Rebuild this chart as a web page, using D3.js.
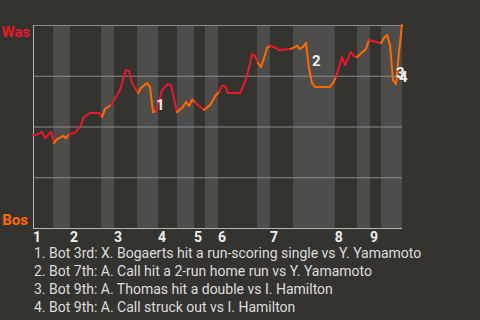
<!DOCTYPE html>
<html>
<head>
<meta charset="utf-8">
<script src="https://cdn.jsdelivr.net/npm/d3@7"></script>
<style>
  html, body { margin: 0; padding: 0; background: #353330; }
  svg { display: block; font-family: Roboto, "Noto Sans", sans-serif; }
</style>
</head>
<body>
<script>
// win probability for Was (percent), one value per play number
var plays = [0, 1, 3, 4, 6, 7, 8, 10, 11, 12, 14, 16, 17, 19, 22, 23, 24, 26, 29, 31,
             32, 33, 35, 36, 38, 39, 40, 41, 43, 45, 46, 48, 50, 51, 52, 53, 54, 55, 57, 59,
             61, 62, 63, 64, 65, 69, 71, 72, 73, 74, 75, 76, 77, 78, 79, 81, 82, 86, 88, 89,
             90, 91, 92, 93, 94, 99, 100, 101, 102, 103, 104, 106, 107, 108, 111, 112, 113, 116, 117, 118,
             119, 120, 121, 122, 123];
var wp =    [45.8, 45.8, 47.3, 44.3, 47.3, 41.9, 43.8, 45.3, 44.3, 46.3, 46.8, 50.7, 54.7, 56.7, 56.7, 54.7, 58.6, 60.6, 68.0, 77.8,
             77.3, 71.4, 66.5, 69.0, 71.4, 69.5, 57.1, 57.6, 68.0, 70.9, 70.4, 57.1, 59.6, 62.1, 60.1, 63.1, 62.1, 60.6, 58.1, 60.6,
             65.5, 67.0, 70.0, 70.0, 66.5, 66.5, 73.4, 78.8, 85.7, 84.7, 81.3, 79.3, 83.7, 88.7, 89.7, 88.7, 87.7, 88.2, 89.7, 88.2,
             89.2, 91.1, 78.8, 71.4, 69.5, 69.5, 71.4, 74.4, 79.3, 84.2, 80.3, 86.7, 84.7, 84.2, 88.2, 92.6, 92.1, 91.1, 93.6, 95.1,
             90.1, 72.9, 70.9, 86.7, 100];

// play number where each half inning starts (top 1st, bot 1st, top 2nd, ...)
var halfStarts = [0, 6.7, 12.3, 22.7, 27, 34.7, 41.7, 48, 53.67, 57.3, 61.67, 74.67, 79, 86.67, 100.6, 108, 112.3, 116];
var lastPlay = 123;
var innings = ["1", "2", "3", "4", "5", "6", "7", "8", "9"];

var teams = ["Was", "Bos"];
var eventPlays = [40, 92, 120, 121];
var eventText = [
  "1. Bot 3rd: X. Bogaerts hit a run-scoring single vs Y. Yamamoto",
  "2. Bot 7th: A. Call hit a 2-run home run vs Y. Yamamoto",
  "3. Bot 9th: A. Thomas hit a double vs I. Hamilton",
  "4. Bot 9th: A. Call struck out vs I. Hamilton"
];

var width = 480, height = 320;
var margin = {top: 25, right: 78, bottom: 92, left: 33};
var red = "#e8192c", orange = "#ff6a00";

var x = d3.scaleLinear().domain([0, lastPlay]).range([margin.left, width - margin.right]);
var y = d3.scaleLinear().domain([0, 100]).range([height - margin.bottom, margin.top]);

var svg = d3.select("body").append("svg")
    .attr("width", width)
    .attr("height", height);

svg.append("rect")
    .attr("width", width).attr("height", height)
    .attr("fill", "#353330");

// shaded bands for bottom halves
var halves = halfStarts.map(function(s, i) {
  return {start: s, end: i < halfStarts.length - 1 ? halfStarts[i + 1] : lastPlay, bottom: i % 2 == 1};
});

svg.append("g").selectAll("rect")
    .data(halves.filter(function(h) { return h.bottom; }))
  .enter().append("rect")
    .attr("x", function(h) { return x(h.start); })
    .attr("width", function(h) { return x(h.end) - x(h.start); })
    .attr("y", y(100))
    .attr("height", y(0) - y(100))
    .attr("fill", "#4f4d4b");

// gridlines
var grid = svg.append("g")
    .attr("transform", "translate(" + margin.left + ",0)")
    .call(d3.axisLeft(y).tickValues([25, 50, 75, 100]).tickSize(-(x(lastPlay) - x(0))).tickFormat(""));
grid.select(".domain").remove();
grid.selectAll(".tick line").attr("stroke", "#8d8b89").attr("stroke-width", 1);

// axis lines
svg.append("line")
    .attr("x1", x(0) + 0.5).attr("x2", x(0) + 0.5)
    .attr("y1", y(100)).attr("y2", y(0) + 1)
    .attr("stroke", "#b5b3b0");
svg.append("line")
    .attr("x1", x(0)).attr("x2", x(lastPlay))
    .attr("y1", y(0) + 0.5).attr("y2", y(0) + 0.5)
    .attr("stroke", "#b5b3b0");

// line, segment colour follows which half inning it is in
function halfOf(p) {
  var i = d3.bisectRight(halfStarts, p) - 1;
  return Math.max(0, i);
}
var pts = plays.map(function(p, i) { return {p: p, v: wp[i]}; });
var segs = d3.pairs(pts);

svg.append("g").selectAll("line")
    .data(segs)
  .enter().append("line")
    .attr("x1", function(d) { return x(d[0].p); })
    .attr("y1", function(d) { return y(d[0].v); })
    .attr("x2", function(d) { return x(d[1].p); })
    .attr("y2", function(d) { return y(d[1].v); })
    .attr("stroke", function(d) { return halfOf((d[0].p + d[1].p) / 2) % 2 == 0 ? red : orange; })
    .attr("stroke-width", 2)
    .attr("stroke-linecap", "round");

// event markers
svg.append("g").selectAll("text")
    .data(eventPlays)
  .enter().append("text")
    .attr("x", function(p) { return x(p) + 3; })
    .attr("y", function(p) { return y(wp[plays.indexOf(p)]) - 7; })
    .attr("dy", "0.35em")
    .attr("fill", "#eeeeee")
    .style("font-size", "15px")
    .style("font-weight", "bold")
    .text(function(p, i) { return i + 1; });

// inning labels
svg.append("g").selectAll("text")
    .data(innings)
  .enter().append("text")
    .attr("x", function(d, i) { return x(halfStarts[i * 2]); })
    .attr("y", 242)
    .attr("fill", "#eeeeee")
    .style("font-size", "14px")
    .style("font-weight", "bold")
    .text(function(d) { return d; });

// team labels
svg.append("text")
    .attr("x", 30).attr("y", y(100) + 11.5)
    .attr("text-anchor", "end")
    .attr("fill", red)
    .style("font-size", "15px")
    .style("font-weight", "bold")
    .text(teams[0]);
svg.append("text")
    .attr("x", 28).attr("y", y(0) - 3)
    .attr("text-anchor", "end")
    .attr("fill", orange)
    .style("font-size", "15px")
    .style("font-weight", "bold")
    .text(teams[1]);

// event list
svg.append("g").selectAll("text")
    .data(eventText)
  .enter().append("text")
    .attr("x", 34)
    .attr("y", function(d, i) { return 258 + i * 18; })
    .attr("fill", "#dddddd")
    .style("font-size", "14px")
    .text(function(d) { return d; });
</script>
</body>
</html>
